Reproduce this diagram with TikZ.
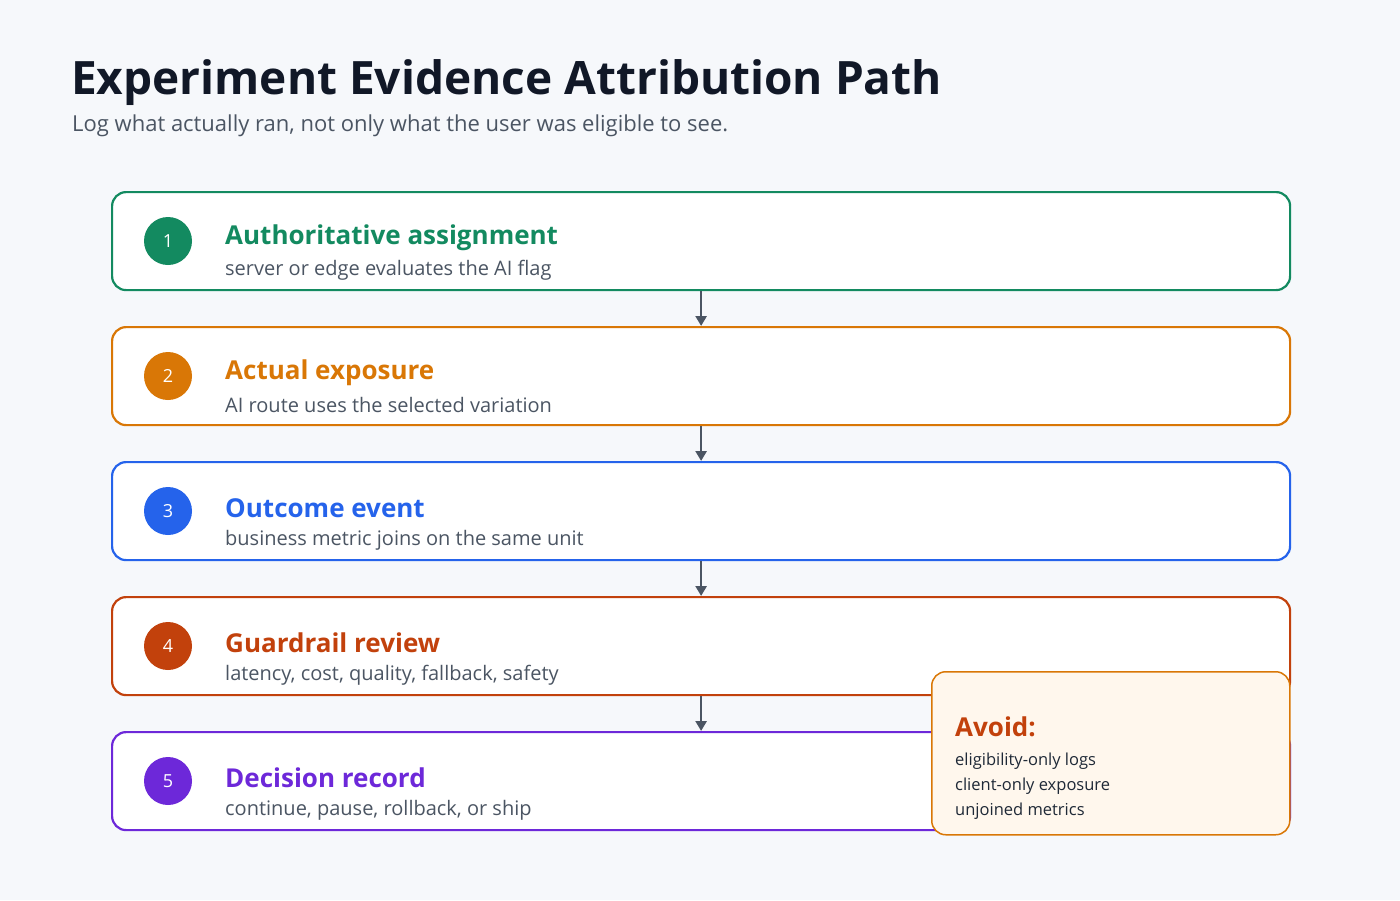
\documentclass[tikz,border=0pt]{standalone}
\usepackage{fontspec}
\setmainfont{Open Sans}
\usetikzlibrary{arrows.meta}
\definecolor{bg}{HTML}{F6F8FB}
\definecolor{ttl}{HTML}{111827}
\definecolor{sub}{HTML}{4B5563}
\definecolor{cA}{HTML}{138A60}
\definecolor{cB}{HTML}{D97706}
\definecolor{cC}{HTML}{2563EB}
\definecolor{cD}{HTML}{C2410C}
\definecolor{cE}{HTML}{6D28D9}
\definecolor{avfill}{HTML}{FFF7ED}
\definecolor{dark}{HTML}{1F2937}
\tikzset{
 stepbox/.style={draw=#1, line width=2.2pt, fill=white, rounded corners=14pt, minimum width=1178pt, minimum height=98pt, anchor=north west, inner sep=0},
 badge/.style={circle, fill=#1, minimum size=48pt, inner sep=0, text=white, font=\fontsize{18}{20}\selectfont},
 head/.style={anchor=west, text=#1, font=\fontsize{26}{30}\selectfont\bfseries, inner sep=0},
 desc/.style={anchor=west, text=sub, font=\fontsize{20}{24}\selectfont, inner sep=0},
 conn/.style={draw=sub, line width=2.5pt, -{Triangle[length=10pt,width=11pt]}}
}
\begin{document}
\begin{tikzpicture}[x=1pt,y=-1pt]
\fill[bg] (0,0) rectangle (1400,900);
\useasboundingbox (0,0) rectangle (1400,900);
\node[anchor=west, inner sep=0, text=ttl, font=\fontsize{46}{50}\selectfont\bfseries] (title) at (71,83) {Experiment Evidence Attribution Path};
\node[anchor=west, inner sep=0, text=sub, font=\fontsize{22}{26}\selectfont] (subt) at (72,126) {Log what actually ran, not only what the user was eligible to see.};
\foreach \i/\y/\c/\h/\d in {1/191/cA/Authoritative assignment/server or edge evaluates the AI flag,
 2/326/cB/Actual exposure/AI route uses the selected variation,
 3/461/cC/Outcome event/business metric joins on the same unit,
 4/596/cD/Guardrail review/{latency, cost, quality, fallback, safety},
 5/731/cE/Decision record/{continue, pause, rollback, or ship}}{
 \node[stepbox=\c] (b\i) at (111,\y) {};
 \node[badge=\c] (n\i) at (168,\y+50) {\i};
 \node[head=\c] (h\i) at (225,\y+47) {\h};
 \node[desc] (d\i) at (225,\y+79) {\d};
}
\foreach \a/\b in {1/2,2/3,3/4,4/5}{
 \draw[conn] (b\a.south) -- (b\b.north);
}
\node[draw=cB, fill=avfill, line width=1.5pt, rounded corners=14pt, minimum width=358pt, minimum height=163pt, anchor=north west, inner sep=0] (avoid) at (931,671) {};
\node[anchor=west, inner sep=0, text=cD, font=\fontsize{26}{30}\selectfont\bfseries] (avt) at (955,727) {Avoid:};
\node[anchor=west, inner sep=0, text=dark, font=\fontsize{16.5}{20}\selectfont] (av1) at (955,761) {eligibility-only logs};
\node[anchor=west, inner sep=0, text=dark, font=\fontsize{16.5}{20}\selectfont] (av2) at (955,786) {client-only exposure};
\node[anchor=west, inner sep=0, text=dark, font=\fontsize{16.5}{20}\selectfont] (av3) at (955,811) {unjoined metrics};
\end{tikzpicture}
\end{document}
